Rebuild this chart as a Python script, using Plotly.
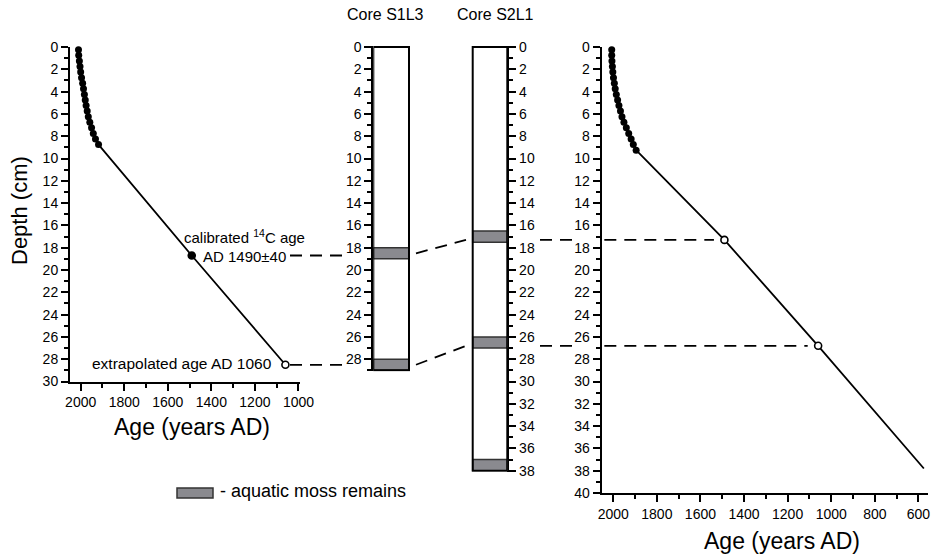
import plotly.graph_objects as go

# ---------------------------------------------------------------- data
# Core S1L3: 210Pb-dated top section (depth cm, age AD)
s1l3_pb_depth = [0.25, 0.75, 1.25, 1.75, 2.25, 2.75, 3.25, 3.75, 4.25,
                 4.75, 5.25, 5.75, 6.25, 6.75, 7.25, 7.75, 8.25, 8.75]
s1l3_pb_age = [2010, 2009, 2006, 2003, 2000, 1996, 1991, 1987, 1983,
               1979, 1975, 1970, 1965, 1958, 1950, 1942, 1932, 1918]
# radiocarbon date and extrapolated basal age
s1l3_dated_depth = [18.7, 28.5]
s1l3_dated_age = [1490, 1060]
s1l3_length = 29
s1l3_moss_top = [18, 28]
s1l3_moss_base = [19, 29]

# Core S2L1: 210Pb-dated top section
s2l1_pb_depth = [0.25, 0.75, 1.25, 1.75, 2.25, 2.75, 3.25, 3.75, 4.25, 4.75,
                 5.25, 5.75, 6.25, 6.75, 7.25, 7.75, 8.25, 8.75, 9.25]
s2l1_pb_age = [2007, 2007, 2006, 2004, 2002, 1999, 1995, 1991, 1986, 1980,
               1974, 1967, 1960, 1951, 1940, 1929, 1918, 1908, 1895]
# ages transferred from S1L3 via the moss layers
s2l1_tie_depth = [17.3, 26.8]
s2l1_tie_age = [1490, 1060]
s2l1_base_depth = 37.8
s2l1_base_age = 575
s2l1_length = 38
s2l1_moss_top = [16.5, 26, 37]
s2l1_moss_base = [17.5, 27, 38]

left_depth_max = 30
right_depth_max = 40

# ---------------------------------------------------------------- layout helpers
W, H = 933, 555
TOP = 47.0      # pixel row of depth 0 (shared by all depth axes)
CM = 11.15      # pixels per cm
FONT = "Liberation Sans, Arial, sans-serif"
MOSS_FILL = "#8a8a8f"
MOSS_LINE = "#333333"
PAD = 0.1       # small extra depth so column outlines are not clipped


def xdom(a, b):
    return [a / W, b / W]


def ydom(d0, d1):
    top = TOP + d0 * CM
    bottom = TOP + d1 * CM
    return [1 - bottom / H, 1 - top / H]


def px(x):
    return x / W


def py(y):
    return 1 - y / H


tick_font = dict(family=FONT, size=14, color="black")
base_axis = dict(showline=True, linecolor="black", linewidth=2,
                 ticks="outside", ticklen=7, tickwidth=2, tickcolor="black",
                 showgrid=False, zeroline=False, tickfont=tick_font,
                 fixedrange=True, automargin=False)
depth_axis = dict(base_axis, dtick=2, tick0=0,
                  minor=dict(ticks="outside", ticklen=4, tickwidth=2,
                             tickcolor="black", dtick=1, tick0=0, showgrid=False))
age_axis = dict(base_axis, dtick=200, tick0=0,
                minor=dict(ticks="outside", ticklen=4, tickwidth=2,
                           tickcolor="black", dtick=100, tick0=0, showgrid=False))

fig = go.Figure()

# ---------------------------------------------------------------- left panel (S1L3 age-depth)
fig.add_trace(go.Scatter(
    x=[s1l3_pb_age[-1]] + s1l3_dated_age,
    y=[s1l3_pb_depth[-1]] + s1l3_dated_depth,
    mode="lines", line=dict(color="black", width=1.8),
    xaxis="x", yaxis="y", hoverinfo="skip"))
fig.add_trace(go.Scatter(
    x=s1l3_pb_age, y=s1l3_pb_depth, mode="markers",
    marker=dict(size=7, color="black"), cliponaxis=False,
    xaxis="x", yaxis="y"))
fig.add_trace(go.Scatter(
    x=s1l3_dated_age, y=s1l3_dated_depth, mode="markers",
    marker=dict(size=7, color=["black", "white"],
                line=dict(color="black", width=1.6)),
    cliponaxis=False, xaxis="x", yaxis="y"))

# ---------------------------------------------------------------- right panel (S2L1 age-depth)
fig.add_trace(go.Scatter(
    x=[s2l1_pb_age[-1]] + s2l1_tie_age + [s2l1_base_age],
    y=[s2l1_pb_depth[-1]] + s2l1_tie_depth + [s2l1_base_depth],
    mode="lines", line=dict(color="black", width=1.8),
    xaxis="x5", yaxis="y5", hoverinfo="skip"))
fig.add_trace(go.Scatter(
    x=s2l1_pb_age, y=s2l1_pb_depth, mode="markers",
    marker=dict(size=7, color="black"), cliponaxis=False,
    xaxis="x5", yaxis="y5"))
fig.add_trace(go.Scatter(
    x=s2l1_tie_age, y=s2l1_tie_depth, mode="markers",
    marker=dict(size=7, color="white", line=dict(color="black", width=1.6)),
    cliponaxis=False, xaxis="x5", yaxis="y5"))

# invisible anchors for the two core columns
fig.add_trace(go.Scatter(x=[0, 1], y=[0, s1l3_length], mode="lines",
                         line=dict(width=0), opacity=0, hoverinfo="skip",
                         xaxis="x3", yaxis="y3"))
fig.add_trace(go.Scatter(x=[0, 1], y=[0, s2l1_length], mode="lines",
                         line=dict(width=0), opacity=0, hoverinfo="skip",
                         xaxis="x4", yaxis="y4"))

# ---------------------------------------------------------------- core columns
shapes = []


def core_column(xref, yref, length, tops, bases):
    out = [dict(type="rect", xref=xref, yref=yref, x0=0, x1=1, y0=0, y1=length,
                fillcolor="white", line=dict(width=0), layer="below")]
    for t, b in zip(tops, bases):
        out.append(dict(type="rect", xref=xref, yref=yref, x0=0, x1=1, y0=t, y1=b,
                        fillcolor=MOSS_FILL, line=dict(color=MOSS_LINE, width=1.5)))
    out.append(dict(type="rect", xref=xref, yref=yref, x0=0, x1=1, y0=0, y1=length,
                    fillcolor="rgba(0,0,0,0)", line=dict(color="black", width=2)))
    return out


shapes += core_column("x3", "y3", s1l3_length, s1l3_moss_top, s1l3_moss_base)
shapes += core_column("x4", "y4", s2l1_length, s2l1_moss_top, s2l1_moss_base)

# ---------------------------------------------------------------- correlation lines
dash = dict(color="black", width=1.8, dash="12px,8px")
s1l3_moss_mid = [(t + b) / 2 for t, b in zip(s1l3_moss_top, s1l3_moss_base)]
for d in s1l3_dated_depth:
    shapes.append(dict(type="line", xref="paper", yref="y5",
                       x0=px(290), x1=px(344), y0=d, y1=d, line=dash))
for d0, d1 in zip(s1l3_moss_mid, s2l1_tie_depth):
    shapes.append(dict(type="line", xref="paper", yref="y5",
                       x0=px(416), x1=px(466), y0=d0, y1=d1, line=dash))
for d, a in zip(s2l1_tie_depth, s2l1_tie_age):
    shapes.append(dict(type="line", xref="paper", yref="y5",
                       x0=px(540), x1=px(572), y0=d, y1=d, line=dash))
    shapes.append(dict(type="line", xref="x5", yref="y5",
                       x0=2041, x1=a + 48, y0=d, y1=d, line=dash))

# legend key
shapes.append(dict(type="rect", xref="paper", yref="paper",
                   x0=px(177), x1=px(213), y0=py(498), y1=py(488),
                   fillcolor=MOSS_FILL, line=dict(color=MOSS_LINE, width=1.5)))

# ---------------------------------------------------------------- annotations
ann = []
ann.append(dict(text="calibrated <sup>14</sup>C age", x=s1l3_dated_age[0],
                y=s1l3_dated_depth[0], xref="x", yref="y", xanchor="left",
                yanchor="middle", xshift=-10, yshift=19, showarrow=False,
                font=dict(family=FONT, size=15, color="black")))
ann.append(dict(text=f"AD {s1l3_dated_age[0]}±40", x=s1l3_dated_age[0],
                y=s1l3_dated_depth[0], xref="x", yref="y", xanchor="left",
                yanchor="middle", xshift=9, yshift=-1, showarrow=False,
                font=dict(family=FONT, size=15, color="black")))
ann.append(dict(text=f"extrapolated age AD {s1l3_dated_age[1]}", x=s1l3_dated_age[1],
                y=s1l3_dated_depth[1], xref="x", yref="y", xanchor="right",
                yanchor="middle", xshift=-11, yshift=1, showarrow=False,
                font=dict(family=FONT, size=15.5, color="black")))
for label, xc in (("Core S1L3", 385), ("Core S2L1", 495)):
    ann.append(dict(text=label, x=px(xc), y=py(15), xref="paper", yref="paper",
                    xanchor="center", yanchor="middle", showarrow=False,
                    font=dict(family=FONT, size=16, color="black")))
ann.append(dict(text="Depth (cm)", x=px(19), y=py(211), xref="paper", yref="paper",
                textangle=-90, xanchor="center", yanchor="middle", showarrow=False,
                font=dict(family=FONT, size=22, color="black")))
ann.append(dict(text="Age (years AD)", x=px(192), y=py(427), xref="paper", yref="paper",
                xanchor="center", yanchor="middle", showarrow=False,
                font=dict(family=FONT, size=23, color="black")))
ann.append(dict(text="Age (years AD)", x=px(782), y=py(541), xref="paper", yref="paper",
                xanchor="center", yanchor="middle", showarrow=False,
                font=dict(family=FONT, size=23, color="black")))
ann.append(dict(text="- aquatic moss remains", x=px(218), y=py(491), xref="paper",
                yref="paper", xanchor="left", yanchor="middle", showarrow=False,
                font=dict(family=FONT, size=18, color="black")))

# ---------------------------------------------------------------- axes
s1_w = 409 - 373.3
s2_w = 507.3 - 472.7
fig.update_layout(
    width=W, height=H, margin=dict(l=0, r=0, t=0, b=0, autoexpand=False),
    paper_bgcolor="white", plot_bgcolor="rgba(0,0,0,0)", showlegend=False,
    xaxis=dict(age_axis, domain=xdom(70, 300), range=[2049, 993], anchor="y"),
    yaxis=dict(depth_axis, domain=ydom(0, left_depth_max),
               range=[left_depth_max, 0], anchor="x"),
    xaxis3=dict(domain=xdom(373.3, 373.3 + s1_w * 1.06), range=[0, 1.06],
                visible=False, anchor="y3", fixedrange=True, automargin=False),
    yaxis3=dict(depth_axis, domain=ydom(-PAD, s1l3_length + PAD),
                range=[s1l3_length + PAD, -PAD], anchor="x3", side="left"),
    xaxis4=dict(domain=xdom(507.3 - s2_w * 1.06, 507.3), range=[-0.06, 1],
                visible=False, anchor="y4", fixedrange=True, automargin=False),
    yaxis4=dict(depth_axis, domain=ydom(-PAD, s2l1_length + PAD),
                range=[s2l1_length + PAD, -PAD], anchor="x4", side="right"),
    xaxis5=dict(age_axis, domain=xdom(601.7, 928), range=[2053, 556], anchor="y5"),
    yaxis5=dict(depth_axis, domain=ydom(0, right_depth_max),
                range=[right_depth_max, 0], anchor="x5"),
    shapes=shapes, annotations=ann,
)

# page body without the browser's default margin, so the figure fills the window
fig.write_html("out.html",
               post_script="document.body.style.margin='0';"
                           "document.body.style.overflow='hidden';")
